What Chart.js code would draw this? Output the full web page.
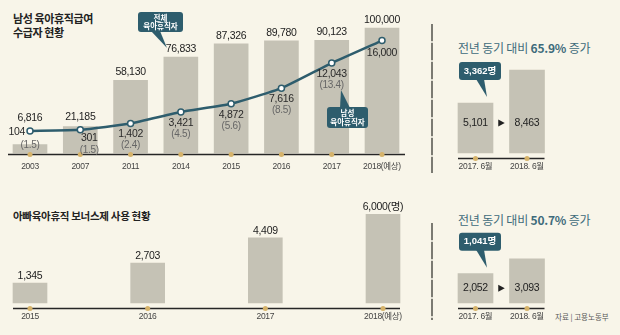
<!DOCTYPE html>
<html><head><meta charset="utf-8">
<script src="https://cdn.jsdelivr.net/npm/chart.js@4.4.1/dist/chart.umd.min.js"></script>
<style>
html,body{margin:0;padding:0;background:#f8f5e9;}
body{width:620px;height:335px;position:relative;overflow:hidden;font-family:"Noto Sans CJK KR",sans-serif;}
.box{position:absolute;}
.t{position:absolute;white-space:nowrap;}
.sep{position:absolute;left:431px;width:2px;background:repeating-linear-gradient(to bottom,#7b7a72 0,#7b7a72 17px,#dcdacf 17px,#dcdacf 19px);}
</style></head>
<body>
<div class="t" style="left:13px;top:11px;font-size:11px;font-weight:bold;line-height:14px;color:#222;letter-spacing:-0.4px">남성 육아휴직급여<br>수급자 현황</div>
<div class="t" style="left:13px;top:209px;font-size:10.5px;font-weight:bold;line-height:14px;color:#222;letter-spacing:-0.3px">아빠육아휴직 보너스제 사용 현황</div>
<div class="t" id="rt1" style="left:458px;top:40px;font-size:12px;line-height:15px;color:#3e6b7b;letter-spacing:-0.2px"></div>
<div class="t" id="rt2" style="left:458px;top:212px;font-size:12px;line-height:15px;color:#3e6b7b;letter-spacing:-0.2px"></div>
<div class="t" style="left:555px;top:311px;font-size:7.5px;line-height:11px;color:#555;">자료 | 고용노동부</div>
<div class="sep" style="top:24px;height:149px"></div>
<div class="sep" style="top:223px;height:97px"></div>
<div class="box" style="left:0;top:0;width:430px;height:180px"><canvas id="c1" width="430" height="180"></canvas></div>
<div class="box" style="left:440px;top:0;width:180px;height:180px"><canvas id="c2" width="180" height="180"></canvas></div>
<div class="box" style="left:0;top:180px;width:430px;height:155px"><canvas id="c3" width="430" height="155"></canvas></div>
<div class="box" style="left:440px;top:180px;width:180px;height:155px"><canvas id="c4" width="180" height="155"></canvas></div>
<script>
// ---- data ----
const years = ['2003','2007','2011','2014','2015','2016','2017','2018(예상)'];
const totalLeave = [6816,21185,58130,76833,87326,89780,90123,100000];
const maleLeave = [104,301,1402,3421,4872,7616,12043,16000];
const maleShare = [1.5,1.5,2.4,4.5,5.6,8.5,13.4,null];
const yoyLabels = ['2017. 6월','2018. 6월'];
const yoyMale = [5101,8463];
const bonusYears = ['2015','2016','2017','2018(예상)'];
const bonusUsers = [1345,2703,4409,6000];
const bonusYoy = [2052,3093];

// ---- style ----
const TEAL='#2e5d6d', BAR='#c5c2b5', GOLD='#d6b36a', INK='#262626';
const NUM='"Liberation Sans Narrow","Liberation Sans","Noto Sans CJK KR",sans-serif';
const KF='"Noto Sans CJK KR",sans-serif';
const fmt=n=>n.toLocaleString('en-US');
const pct=(a,b)=>((b/a-1)*100).toFixed(1);

document.getElementById('rt1').innerHTML='전년 동기 대비 <b>'+pct(yoyMale[0],yoyMale[1])+'%</b> 증가';
document.getElementById('rt2').innerHTML='전년 동기 대비 <b>'+pct(bonusYoy[0],bonusYoy[1])+'%</b> 증가';

function txt(ctx,s,x,y,font,color,align,ls){
  ctx.save();ctx.font=font;ctx.fillStyle=color;ctx.textAlign=align||'center';ctx.textBaseline='middle';
  if(ls) ctx.letterSpacing=ls; ctx.fillText(s,x,y);ctx.restore();
}
function callout(ctx,bx,by,bw,bh,tail,lines,font,lh){
  ctx.save();ctx.fillStyle=TEAL;
  ctx.beginPath();ctx.roundRect(bx,by,bw,bh,3);ctx.fill();
  ctx.beginPath();ctx.moveTo(tail[0][0],tail[0][1]);ctx.lineTo(tail[1][0],tail[1][1]);ctx.lineTo(tail[2][0],tail[2][1]);ctx.closePath();ctx.fill();
  ctx.fillStyle='#fff';ctx.font=font;ctx.textAlign='center';ctx.textBaseline='middle';
  const cx=bx+bw/2, cy0=by+bh/2-(lines.length-1)*lh/2;
  lines.forEach((l,i)=>ctx.fillText(l,cx,cy0+i*lh));
  ctx.restore();
}
function axis(ctx,x0,x1,y,xs,labels,ly){
  ctx.save();ctx.strokeStyle=INK;ctx.lineWidth=1.5;ctx.beginPath();ctx.moveTo(x0,y);ctx.lineTo(x1,y);ctx.stroke();
  ctx.fillStyle=GOLD;xs.forEach(x=>{ctx.beginPath();ctx.arc(x,y,2.5,0,Math.PI*2);ctx.fill();});
  ctx.restore();
  xs.forEach((x,i)=>txt(ctx,labels[i],x,ly,'8.5px '+NUM,'#444','center','-0.3px'));
}
const common={responsive:false,animation:false,events:[],plugins:{legend:{display:false},tooltip:{enabled:false}}};

// ---- chart 1 ----
const p1={id:'p1',afterDatasetsDraw(chart){
  const ctx=chart.ctx, pts=chart.getDatasetMeta(0).data, bars=chart.getDatasetMeta(1).data;
  const base=bars[0].base;
  axis(ctx,8,405,base+1.5,bars.map(b=>b.x),years,base+14);
  bars.forEach((b,i)=>{
    const y=Math.min(b.y-8,pts[i].y-13);
    txt(ctx,fmt(totalLeave[i]),b.x,y,'10.5px '+NUM,'#222','center','-0.3px');
  });
  pts.forEach((p,i)=>{
    let vx=p.x,vy=p.y+11,px=p.x,py=p.y+22,al='center';
    if(i===0){vx=p.x-5;vy=p.y+1;al='right';px=p.x;py=p.y+14;}
    if(i===1){vx=p.x+9;vy=p.y+8;px=p.x+9;py=p.y+20;}
    if(i===pts.length-1){vy=p.y+13;}
    txt(ctx,fmt(maleLeave[i]),vx,vy,'10.5px '+NUM,'#2a2a2a',al,'-0.3px');
    if(maleShare[i]!=null) txt(ctx,'('+maleShare[i].toFixed(1)+')',px,py,'10px '+NUM,'#666','center','-0.3px');
  });
  callout(ctx,138,12,45,20,[[151,31],[160,31],[167,48]],['전체','육아휴직자'],'bold 7.5px '+KF,8.5);
  callout(ctx,327,107,41,21,[[340,108],[350,108],[341,90]],['남성','육아휴직자'],'bold 7.5px '+KF,8.5);
}};
new Chart(document.getElementById('c1'),{
  type:'bar',
  data:{labels:years,datasets:[
    {type:'line',data:maleLeave,yAxisID:'y2',order:0,borderColor:TEAL,borderWidth:2.5,tension:0.15,
     pointRadius:3,pointBackgroundColor:'#fff',pointBorderColor:TEAL,pointBorderWidth:1.5,borderJoinStyle:'round'},
    {type:'bar',data:totalLeave,yAxisID:'y',order:1,backgroundColor:BAR,barThickness:34,clip:false}
  ]},
  options:Object.assign({},common,{
    layout:{padding:{left:30,right:48,top:10,bottom:27}},
    scales:{x:{display:false,offset:false},y:{display:false,min:0,max:114400},y2:{display:false,min:-3781,max:21368}}
  }),
  plugins:[p1]
});

// ---- yoy charts ----
function yoyPlugin(vals,id){return {id:id,afterDatasetsDraw(chart){
  const ctx=chart.ctx, bars=chart.getDatasetMeta(0).data, base=bars[0].base;
  axis(ctx,bars[0].x-17.5,bars[1].x+17.5,base+5.5,bars.map(b=>b.x),yoyLabels,base+14);
  const small=bars[0];
  const vy=Math.min(small.y+20,(small.y+base)/2);
  bars.forEach((b,i)=>txt(ctx,fmt(vals[i]),b.x,vy,'10.5px '+NUM,'#222','center','-0.3px'));
  const cx=(bars[0].x+bars[1].x)/2;
  ctx.save();ctx.fillStyle='#222';ctx.beginPath();ctx.moveTo(cx-3,vy-3.5);ctx.lineTo(cx-3,vy+3.5);ctx.lineTo(cx+3.5,vy);ctx.closePath();ctx.fill();ctx.restore();
  const bx=small.x-16.5, by=small.y-41;
  callout(ctx,bx,by,42,18,[[bx+17,by+17],[bx+25,by+17],[bx+28,small.y-6]],[fmt(vals[1]-vals[0])+'명'],'bold 9.5px '+NUM,10);
}};}
new Chart(document.getElementById('c2'),{
  type:'bar',
  data:{labels:yoyLabels,datasets:[{data:yoyMale,backgroundColor:BAR,barThickness:35,clip:false}]},
  options:Object.assign({},common,{layout:{padding:{left:35.5,right:93,top:60,bottom:27}},
    scales:{x:{display:false,offset:false},y:{display:false,min:0,max:9490}}}),
  plugins:[yoyPlugin(yoyMale,'p2')]
});
new Chart(document.getElementById('c4'),{
  type:'bar',
  data:{labels:yoyLabels,datasets:[{data:bonusYoy,backgroundColor:BAR,barThickness:35,clip:false}]},
  options:Object.assign({},common,{layout:{padding:{left:35.5,right:93,top:60,bottom:32}},
    scales:{x:{display:false,offset:false},y:{display:false,min:0,max:4406}}}),
  plugins:[yoyPlugin(bonusYoy,'p4')]
});

// ---- chart 3 ----
const p3={id:'p3',afterDatasetsDraw(chart){
  const ctx=chart.ctx, bars=chart.getDatasetMeta(0).data, base=bars[0].base;
  axis(ctx,13,400,base+5.5,bars.map(b=>b.x),bonusYears,base+14);
  bars.forEach((b,i)=>txt(ctx,fmt(bonusUsers[i])+(i===bars.length-1?'(명)':''),b.x,b.y-7,'10.5px '+NUM,'#222','center','-0.3px'));
}};
new Chart(document.getElementById('c3'),{
  type:'bar',
  data:{labels:bonusYears,datasets:[{data:bonusUsers,backgroundColor:BAR,barThickness:34,clip:false}]},
  options:Object.assign({},common,{layout:{padding:{left:30,right:47,top:20,bottom:32}},
    scales:{x:{display:false,offset:false},y:{display:false,min:0,max:6970}}}),
  plugins:[p3]
});
</script>
</body></html>
